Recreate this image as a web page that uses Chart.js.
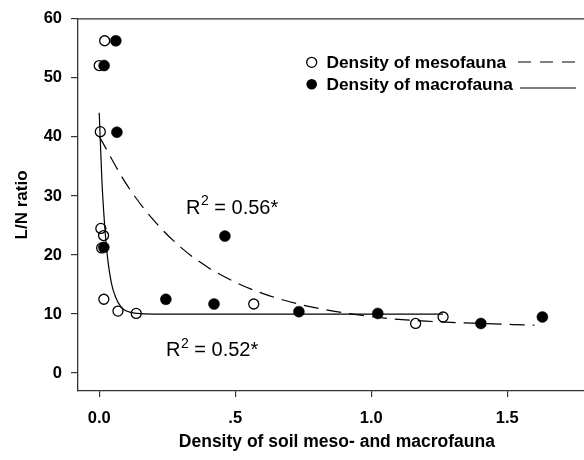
<!DOCTYPE html>
<html>
<head>
<meta charset="utf-8">
<script src="https://cdn.jsdelivr.net/npm/chart.js@4"></script>
<style>
  body { margin: 0; background: #fff; overflow: hidden; }
</style>
</head>
<body>
<canvas id="myChart" width="602" height="460"></canvas>
<script>
const ctx = document.getElementById("myChart").getContext("2d");
const FONT = "'Liberation Sans', Arial, sans-serif";

// open circles
const mesoX = [0.02, 0.0, 0.004, 0.006, 0.016, 0.009, 0.017, 0.069, 0.136, 0.568, 1.163, 1.264];
const mesoY = [56.3, 52.1, 40.9, 24.5, 23.3, 21.2, 12.5, 10.5, 10.1, 11.7, 8.4, 9.5];

// filled circles
const macroX = [0.061, 0.018, 0.065, 0.017, 0.245, 0.422, 0.462, 0.734, 1.024, 1.403, 1.629];
const macroY = [56.3, 52.1, 40.8, 21.3, 12.5, 11.7, 23.2, 10.4, 10.1, 8.4, 9.5];

// dashed fit curve (mesofauna)
const mesoFitX = [0, 0.1, 0.2, 0.3, 0.4, 0.5, 0.6, 0.75, 0.9, 1.05, 1.2, 1.4, 1.6];
const mesoFitY = [40.1, 32.0, 25.9, 21.3, 17.9, 15.4, 13.5, 11.5, 10.2, 9.3, 8.8, 8.4, 8.1];

// solid fit curve (macrofauna)
const macroFitX = [0, 0.01, 0.02, 0.03, 0.045, 0.06, 0.08, 0.1, 0.14, 0.2, 0.5, 1.0, 1.264];
const macroFitY = [44.1, 32.5, 25.0, 19.8, 15.2, 12.9, 11.2, 10.5, 10.1, 10.0, 10.0, 10.0, 10.0];

const xTicks = [0, 0.5, 1, 1.5];
const xTickLabels = ['0.0', '.5', '1.0', '1.5'];
const yTicks = [0, 10, 20, 30, 40, 50, 60];

const pts = (xs, ys) => xs.map((x, i) => ({ x: x, y: ys[i] }));

// legend, R² notes and top frame line
const extras = {
   id: 'extras',
   afterDraw(chart) {
      const c = chart.ctx;
      const area = chart.chartArea;
      c.save();
      c.strokeStyle = '#333';
      c.lineWidth = 1.3;
      c.beginPath();
      c.moveTo(area.left, area.top);
      c.lineTo(area.right, area.top);
      c.stroke();

      // legend
      c.fillStyle = '#000';
      c.strokeStyle = '#000';
      c.lineWidth = 1.3;
      c.beginPath();
      c.arc(311.7, 62.3, 5, 0, Math.PI * 2);
      c.stroke();
      c.beginPath();
      c.arc(311.7, 84.3, 5.3, 0, Math.PI * 2);
      c.fill();
      c.font = 'bold 17.3px ' + FONT;
      c.textBaseline = 'middle';
      c.fillText('Density of mesofauna', 326.5, 63);
      c.fillText('Density of macrofauna', 326.5, 85);
      c.lineWidth = 1.2;
      c.setLineDash([13, 9]);
      c.beginPath();
      c.moveTo(518, 62);
      c.lineTo(576, 62);
      c.stroke();
      c.setLineDash([]);
      c.beginPath();
      c.moveTo(520, 88);
      c.lineTo(576, 88);
      c.stroke();

      // R² labels
      const r2 = (x, y, txt) => {
         c.textBaseline = 'alphabetic';
         c.font = '20px ' + FONT;
         c.fillText('R', x, y);
         let w = c.measureText('R').width;
         c.font = '14px ' + FONT;
         c.fillText('2', x + w + 0.5, y - 8.5);
         w += c.measureText('2').width + 0.5;
         c.font = '20px ' + FONT;
         c.fillText(' = ' + txt, x + w, y);
      };
      r2(186, 213.5, '0.56*');
      r2(166, 356, '0.52*');
      c.restore();
   }
};

const data = {
   datasets: [
      {
         label: 'Density of mesofauna',
         data: pts(mesoX, mesoY),
         pointRadius: 5,
         pointBorderWidth: 1.3,
         pointBorderColor: '#000',
         pointBackgroundColor: 'rgba(0,0,0,0)',
         showLine: false
      },
      {
         label: 'Density of macrofauna',
         data: pts(macroX, macroY),
         pointRadius: 5.5,
         pointBorderWidth: 0.5,
         pointBorderColor: '#000',
         pointBackgroundColor: '#000',
         showLine: false
      },
      {
         label: 'mesofauna fit',
         data: pts(mesoFitX, mesoFitY),
         showLine: true,
         pointRadius: 0,
         borderColor: '#000',
         borderWidth: 1.2,
         borderDash: [15, 8],
         cubicInterpolationMode: 'monotone',
         fill: false
      },
      {
         label: 'macrofauna fit',
         data: pts(macroFitX, macroFitY),
         showLine: true,
         pointRadius: 0,
         borderColor: '#000',
         borderWidth: 1.2,
         cubicInterpolationMode: 'monotone',
         fill: false
      }
   ]
};

const config = {
   type: 'scatter',
   data: data,
   plugins: [extras],
   options: {
      responsive: false,
      animation: false,
      layout: { padding: { top: 18, right: 0, left: 0, bottom: 0 } },
      plugins: {
         legend: { display: false },
         tooltip: { enabled: false }
      },
      scales: {
         x: {
            type: 'linear',
            min: -0.078,
            max: 1.825,
            afterBuildTicks: (s) => { s.ticks = xTicks.map(v => ({ value: v })); },
            afterFit: (s) => { s.height = 69; },
            ticks: {
               callback: (v) => xTickLabels[xTicks.indexOf(v)],
               color: '#000',
               padding: 12,
               maxRotation: 0,
               font: { family: FONT, size: 16.5, weight: 'bold' }
            },
            grid: { drawOnChartArea: false, tickLength: 6, color: '#333', lineWidth: 1.2 },
            border: { color: '#333', width: 1.3 },
            title: {
               display: true,
               text: 'Density of soil meso- and macrofauna',
               color: '#000',
               font: { family: FONT, size: 17.5, weight: 'bold' },
               padding: { top: 0, bottom: 7 }
            }
         },
         y: {
            min: -3.04,
            max: 60,
            afterBuildTicks: (s) => { s.ticks = yTicks.map(v => ({ value: v })); },
            afterFit: (s) => { s.width = 78; },
            ticks: {
               color: '#000',
               padding: 9,
               font: { family: FONT, size: 16.5, weight: 'bold' }
            },
            grid: { drawOnChartArea: false, tickLength: 7, color: '#333', lineWidth: 1.2 },
            border: { color: '#333', width: 1.3 },
            title: {
               display: true,
               text: 'L/N ratio',
               color: '#000',
               font: { family: FONT, size: 17, weight: 'bold' },
               padding: { top: 12, bottom: 0 }
            }
         }
      }
   }
};

const myChart = new Chart(ctx, config);
</script>
</body>
</html>
